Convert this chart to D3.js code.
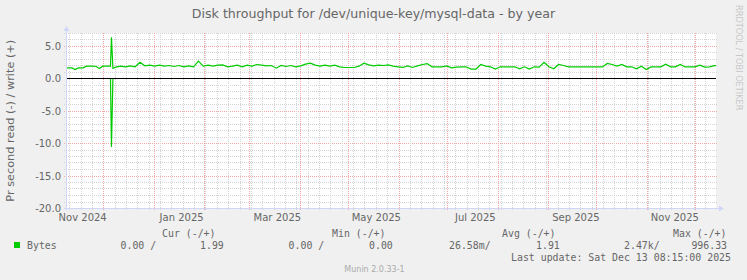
<!DOCTYPE html>
<html>
<head>
<meta charset="utf-8">
<script src="https://cdn.jsdelivr.net/npm/d3@7"></script>
<style>
  body { margin: 0; background: #f0f0f0; }
  svg { display: block; font-family: "DejaVu Sans", sans-serif; }
  .mono { font-family: "DejaVu Sans Mono", monospace; }
</style>
</head>
<body>
<div id="chart-area"></div>
<script>
const WIDTH = 747
const HEIGHT = 280
const PLOT = { LEFT: 67, RIGHT: 716, TOP: 33, BOTTOM: 208.5 }

// last update, the graph covers 400 days
const endTime = new Date(2025, 11, 13, 8, 15)
const startTime = d3.timeDay.offset(endTime, -400)

// write (+) series, days after startTime
const writeDays = [
  0, 3, 5, 7, 10, 12, 16, 18, 20, 22, 26, 26.8, 27.4, 28.3,
  30, 33, 36, 39, 42, 45, 48, 51, 54, 57,
  60, 63, 66, 69, 72, 75, 78, 81, 84, 87,
  90, 93, 96, 99, 102, 105, 108, 111, 114, 117,
  120, 123, 126, 129, 132, 135, 138, 141, 144, 147,
  150, 153, 156, 159, 162, 165, 168, 171, 174, 177,
  180, 183, 186, 189, 192, 195, 198, 201, 204, 207,
  210, 213, 216, 219, 222, 225, 228, 231, 234, 237,
  240, 243, 246, 249, 252, 255, 258, 261, 264, 267,
  270, 273, 276, 279, 282, 285, 288, 291, 294, 297,
  300, 303, 306, 309, 312, 315, 318, 321, 324, 327,
  330, 333, 336, 339, 342, 345, 348, 351, 354, 357,
  360, 363, 366, 369, 372, 375, 378, 381, 384, 387,
  390, 393, 396, 399, 400
]
const writeValues = [
  1.64, 1.64, 1.39, 1.64, 1.64, 1.9, 1.9, 1.85, 1.54, 1.9, 1.9, 1.9, 6.35, 1.55,
  1.75, 1.9, 1.8, 1.95, 1.8, 2.5, 1.95, 2.05, 1.9, 2.05,
  1.9, 2.0, 1.85, 2.0, 1.8, 1.95, 1.8, 2.67, 1.9, 2.05,
  1.9, 2.05, 2.1, 1.8, 1.9, 2.05, 1.8, 2.05, 1.9, 2.15,
  2.05, 1.95, 2.0, 1.59, 2.0, 1.85, 2.0, 1.8, 1.95, 2.2,
  2.37, 2.05, 1.9, 2.05, 1.9, 2.05, 1.8, 1.69, 1.69, 1.69,
  1.9, 2.36, 2.1, 1.95, 2.05, 2.0, 2.1, 1.9, 1.8, 1.7,
  1.95, 1.7, 1.95, 2.15, 2.3, 1.8, 1.8, 1.8, 1.95, 1.64,
  1.75, 1.8, 1.8, 1.45, 1.45, 2.15, 1.9, 1.8, 1.44, 1.8,
  1.8, 1.8, 1.8, 1.49, 1.8, 1.44, 1.8, 1.75, 2.5, 1.8,
  1.49, 2.16, 2.0, 1.8, 1.78, 1.78, 1.78, 1.78, 1.78, 1.78,
  1.78, 2.31, 2.16, 1.9, 2.16, 1.8, 1.8, 1.49, 1.9, 1.39,
  1.78, 1.78, 1.8, 2.2, 1.8, 1.8, 2.16, 1.78, 1.78, 1.78,
  2.05, 1.75, 1.8, 1.99, 1.99
]

// read (-) series
const readDays = [0, 26.8, 27.4, 28.3, 400]
const readValues = [0, 0, -10.55, 0, 0]

const yTicks = [5, 0, -5, -10, -15, -20]
const labelMonths = [
  new Date(2024, 10, 1), new Date(2025, 0, 1), new Date(2025, 2, 1), new Date(2025, 4, 1),
  new Date(2025, 6, 1), new Date(2025, 8, 1), new Date(2025, 10, 1)
]

const legendHeads = ["Cur (-/+)", "Min (-/+)", "Avg (-/+)", "Max (-/+)"]
const legendValues = ["0.00 /", "1.99", "0.00 /", "0.00", "26.58m/", "1.91", "2.47k/", "996.33"]

const toDate = d => new Date(startTime.getTime() + d * 864e5)
const writeData = writeDays.map((d, i) => ({ date: toDate(d), value: writeValues[i] }))
const readData = readDays.map((d, i) => ({ date: toDate(d), value: readValues[i] }))

const svg = d3.select("#chart-area").append("svg")
  .attr("width", WIDTH)
  .attr("height", HEIGHT)

svg.append("rect")
  .attr("width", WIDTH).attr("height", HEIGHT)
  .attr("fill", "#f0f0f0")

const x = d3.scaleTime()
  .domain([startTime, endTime])
  .range([PLOT.LEFT, PLOT.RIGHT])

const y = d3.scaleLinear()
  .domain([-20, 7])
  .range([PLOT.BOTTOM, PLOT.TOP])

const crisp = v => Math.floor(v) + 0.5

// canvas
svg.append("rect")
  .attr("x", PLOT.LEFT).attr("y", PLOT.TOP)
  .attr("width", PLOT.RIGHT - PLOT.LEFT)
  .attr("height", PLOT.BOTTOM - PLOT.TOP)
  .attr("fill", "#ffffff")

const grid = svg.append("g").attr("shape-rendering", "crispEdges")
const minorColor = "#d4d4d4"
const majorColor = "#f2a6a6"

// horizontal grid, one per unit
d3.range(-19, 8).filter(v => v !== 0).forEach(v => {
  grid.append("line")
    .attr("x1", PLOT.LEFT - 3).attr("x2", PLOT.RIGHT + 2)
    .attr("y1", crisp(y(v))).attr("y2", crisp(y(v)))
    .attr("stroke", v % 5 === 0 ? majorColor : minorColor)
    .attr("stroke-dasharray", "1,1")
})

// vertical grid: weeks and months
d3.timeWeek.range(startTime, endTime).forEach(t => {
  grid.append("line")
    .attr("x1", crisp(x(t))).attr("x2", crisp(x(t)))
    .attr("y1", PLOT.TOP).attr("y2", PLOT.BOTTOM + 2)
    .attr("stroke", minorColor)
    .attr("stroke-dasharray", "1,1")
})
d3.timeMonth.range(startTime, endTime).forEach(t => {
  grid.append("line")
    .attr("x1", crisp(x(t))).attr("x2", crisp(x(t)))
    .attr("y1", PLOT.TOP).attr("y2", PLOT.BOTTOM + 2)
    .attr("stroke", majorColor)
    .attr("stroke-dasharray", "1,1")
})

// axes
const axisColor = "#cfd6f8"
svg.append("line")
  .attr("x1", PLOT.LEFT - 0.5).attr("x2", PLOT.LEFT - 0.5)
  .attr("y1", PLOT.BOTTOM + 2).attr("y2", PLOT.TOP - 4)
  .attr("stroke", axisColor)
svg.append("path")
  .attr("d", `M${PLOT.LEFT - 3.5},${PLOT.TOP - 2} L${PLOT.LEFT + 2.5},${PLOT.TOP - 2} L${PLOT.LEFT - 0.5},${PLOT.TOP - 7} Z`)
  .attr("fill", axisColor)
svg.append("line")
  .attr("x1", PLOT.LEFT - 3).attr("x2", PLOT.RIGHT + 4)
  .attr("y1", PLOT.BOTTOM).attr("y2", PLOT.BOTTOM)
  .attr("stroke", axisColor)
svg.append("path")
  .attr("d", `M${PLOT.RIGHT + 3},${PLOT.BOTTOM - 3} L${PLOT.RIGHT + 3},${PLOT.BOTTOM + 3} L${PLOT.RIGHT + 8},${PLOT.BOTTOM} Z`)
  .attr("fill", axisColor)

// series
const line = d3.line()
  .x(d => x(d.date))
  .y(d => y(d.value))

svg.append("path")
  .datum(readData)
  .attr("d", line)
  .attr("fill", "none")
  .attr("stroke", "#00cc00")
  .attr("stroke-width", 1.2)

svg.append("path")
  .datum(writeData)
  .attr("d", line)
  .attr("fill", "none")
  .attr("stroke", "#00cc00")
  .attr("stroke-width", 1.2)

// zero line
svg.append("line")
  .attr("x1", PLOT.LEFT).attr("x2", PLOT.RIGHT)
  .attr("y1", y(0)).attr("y2", y(0))
  .attr("stroke", "#000000")
  .attr("stroke-width", 1.2)

// y labels
svg.selectAll(".y-label")
  .data(yTicks)
  .enter().append("text")
  .attr("class", "y-label")
  .attr("x", PLOT.LEFT - 6)
  .attr("y", d => crisp(y(d)))
  .attr("dy", "0.36em")
  .attr("text-anchor", "end")
  .attr("font-size", "10px")
  .attr("fill", "#666666")
  .text(d => d.toFixed(1))

// x labels, centred in the month like rrdtool
svg.selectAll(".x-label")
  .data(labelMonths)
  .enter().append("text")
  .attr("class", "x-label")
  .attr("x", d => x(d3.timeHour.offset(d, 17 * 24)))
  .attr("y", 220.5)
  .attr("text-anchor", "middle")
  .attr("font-size", "10px")
  .attr("fill", "#666666")
  .text(d3.timeFormat("%b %Y"))

// title
svg.append("text")
  .attr("x", WIDTH / 2)
  .attr("y", 18)
  .attr("text-anchor", "middle")
  .attr("font-size", "12.6px")
  .attr("fill", "#666666")
  .text("Disk throughput for /dev/unique-key/mysql-data - by year")

// y title
svg.append("text")
  .attr("transform", `translate(14, ${(PLOT.TOP + PLOT.BOTTOM) / 2}) rotate(-90)`)
  .attr("text-anchor", "middle")
  .attr("font-size", "11.3px")
  .attr("fill", "#666666")
  .text("Pr second read (-) / write (+)")

// watermark on the right
svg.append("text")
  .attr("transform", "translate(736, 5) rotate(90)")
  .attr("font-size", "8.2px")
  .attr("fill", "#c8c8c8")
  .text("RRDTOOL / TOBI OETIKER")

// legend
const legend = svg.append("g")
  .attr("class", "mono")
  .attr("font-size", "9.9px")
  .attr("fill", "#666666")

const headX = [162, 332, 502, 673]
legend.selectAll(".head")
  .data(legendHeads)
  .enter().append("text")
  .attr("class", "head")
  .attr("x", (d, i) => headX[i])
  .attr("y", 236.5)
  .text(d => d)

legend.append("rect")
  .attr("x", 14).attr("y", 242)
  .attr("width", 6).attr("height", 6)
  .attr("fill", "#00cc00")

legend.append("text")
  .attr("x", 27).attr("y", 248.5)
  .text("Bytes")

const valueX = [120.5, 200, 288.6, 369, 449, 536, 624, 691.4]
legend.selectAll(".val")
  .data(legendValues)
  .enter().append("text")
  .attr("class", "val")
  .attr("x", (d, i) => valueX[i])
  .attr("y", 248.5)
  .text(d => d)

legend.append("text")
  .attr("x", 511).attr("y", 261)
  .text("Last update: Sat Dec 13 08:15:00 2025")

svg.append("text")
  .attr("x", 374.5).attr("y", 272)
  .attr("text-anchor", "middle")
  .attr("font-size", "8px")
  .attr("fill", "#aaaaaa")
  .text("Munin 2.0.33-1")
</script>
</body>
</html>
